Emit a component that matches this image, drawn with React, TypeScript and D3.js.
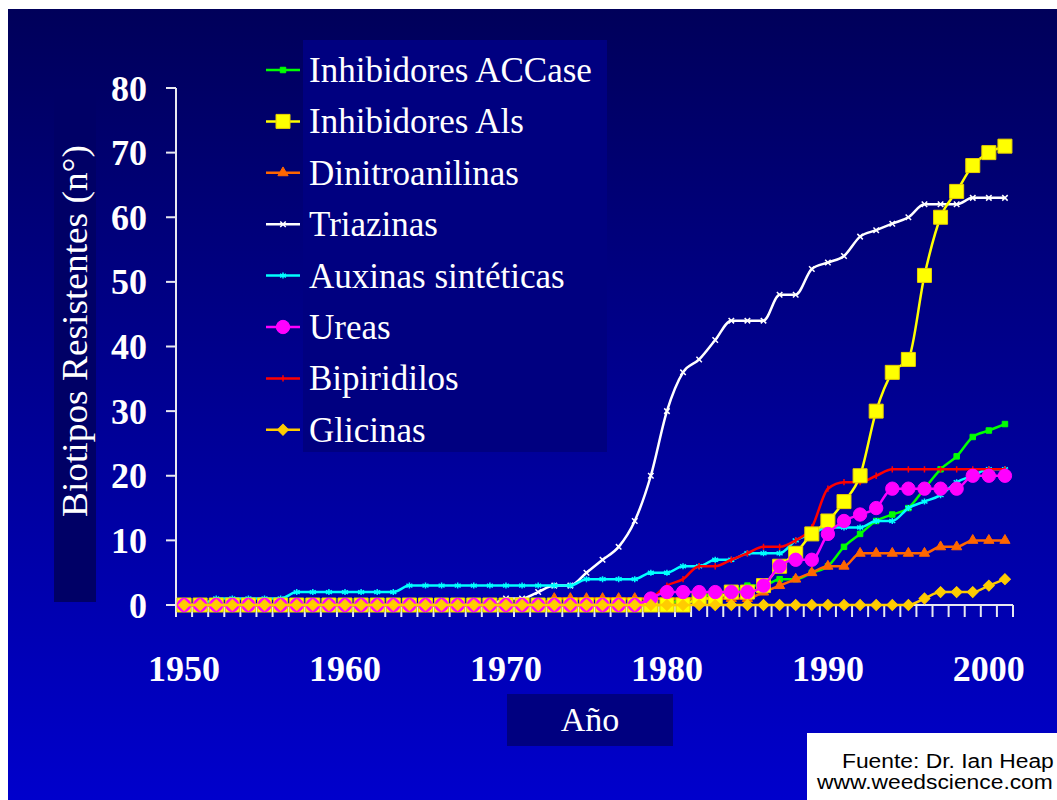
import React, { useRef, useEffect } from 'react';
import * as d3 from 'd3';

// Categories: one per year, 1950 to 2001
const years = d3.range(1950, 2002);
const xTickYears = [1950, 1960, 1970, 1980, 1990, 2000];
const yTicks = [0, 10, 20, 30, 40, 50, 60, 70, 80];

// Resistant biotypes per herbicide group (cumulative)
const accase = [
  0, 0, 0, 0, 0, 0, 0, 0, 0, 0,
  0, 0, 0, 0, 0, 0, 0, 0, 0, 0,
  0, 0, 0, 0, 0, 0, 0, 0, 0, 0,
  0, 1, 1, 2, 2, 3, 3, 4, 4, 5,
  6, 9, 11, 13, 14, 15, 18, 21, 23, 26,
  27, 28,
];
const als = [
  0, 0, 0, 0, 0, 0, 0, 0, 0, 0,
  0, 0, 0, 0, 0, 0, 0, 0, 0, 0,
  0, 0, 0, 0, 0, 0, 0, 0, 0, 0,
  0, 0, 1, 1, 2, 2, 3, 6, 8, 11,
  13, 16, 20, 30, 36, 38, 51, 60, 64, 68,
  70, 71,
];
const dinitro = [
  0, 0, 0, 0, 0, 0, 0, 0, 0, 0,
  0, 0, 0, 0, 0, 0, 0, 0, 0, 0,
  0, 0, 0, 1, 1, 1, 1, 1, 1, 1,
  1, 1, 1, 1, 1, 1, 2, 3, 4, 5,
  6, 6, 8, 8, 8, 8, 8, 9, 9, 10,
  10, 10,
];
const triazinas = [
  0, 0, 0, 0, 0, 0, 0, 0, 0, 0,
  0, 0, 0, 0, 0, 0, 0, 0, 0, 0,
  1, 1, 2, 3, 3, 5, 7, 9, 13, 20,
  30, 36, 38, 41, 44, 44, 44, 48, 48, 52,
  53, 54, 57, 58, 59, 60, 62, 62, 62, 63,
  63, 63,
];
const auxinas = [
  0, 0, 1, 1, 1, 1, 1, 2, 2, 2,
  2, 2, 2, 2, 3, 3, 3, 3, 3, 3,
  3, 3, 3, 3, 3, 4, 4, 4, 4, 5,
  5, 6, 6, 7, 7, 8, 8, 8, 10, 11,
  12, 12, 12, 13, 13, 15, 16, 17, 19, 20,
  21, 21,
];
const ureas = [
  0, 0, 0, 0, 0, 0, 0, 0, 0, 0,
  0, 0, 0, 0, 0, 0, 0, 0, 0, 0,
  0, 0, 0, 0, 0, 0, 0, 0, 0, 1,
  2, 2, 2, 2, 2, 2, 3, 6, 7, 7,
  11, 13, 14, 15, 18, 18, 18, 18, 18, 20,
  20, 20,
];
const bipiridilos = [
  0, 0, 0, 0, 0, 0, 0, 0, 0, 0,
  0, 0, 0, 0, 0, 0, 0, 0, 0, 0,
  0, 0, 0, 0, 0, 0, 0, 0, 0, 1,
  3, 4, 6, 6, 7, 8, 9, 9, 10, 12,
  18, 19, 19, 20, 21, 21, 21, 21, 21, 21,
  21, 21,
];
const glicinas = [
  0, 0, 0, 0, 0, 0, 0, 0, 0, 0,
  0, 0, 0, 0, 0, 0, 0, 0, 0, 0,
  0, 0, 0, 0, 0, 0, 0, 0, 0, 0,
  0, 0, 0, 0, 0, 0, 0, 0, 0, 0,
  0, 0, 0, 0, 0, 0, 1, 2, 2, 2,
  3, 4,
];

// small stroked marker shapes
const xMark = {
  draw(ctx: any, size: number) {
    const r = Math.sqrt(size) / 2;
    ctx.moveTo(-r, -r); ctx.lineTo(r, r);
    ctx.moveTo(r, -r); ctx.lineTo(-r, r);
  },
};
const plusMark = {
  draw(ctx: any, size: number) {
    const r = Math.sqrt(size) / 2;
    ctx.moveTo(0, -r); ctx.lineTo(0, r);
    ctx.moveTo(-r * 0.4, 0); ctx.lineTo(r * 0.4, 0);
  },
};
const starMark = {
  draw(ctx: any, size: number) {
    const r = Math.sqrt(size) / 2;
    ctx.moveTo(0, -r); ctx.lineTo(0, r);
    ctx.moveTo(-r, -r * 0.6); ctx.lineTo(r, r * 0.6);
    ctx.moveTo(r, -r * 0.6); ctx.lineTo(-r, r * 0.6);
  },
};

interface Series {
  name: string;
  values: number[];
  color: string;
  symbol: any;
  size: number;
  filled: boolean;
  rotate?: number;
  stroke?: string;
}

// legend order
const series: Series[] = [
  { name: 'Inhibidores ACCase', values: accase, color: '#00ff00', symbol: d3.symbolSquare, size: 30, filled: true },
  { name: 'Inhibidores Als', values: als, color: '#ffff00', symbol: d3.symbolSquare, size: 196, filled: true, stroke: '#e8d000' },
  { name: 'Dinitroanilinas', values: dinitro, color: '#ff6600', symbol: d3.symbolTriangle, size: 45, filled: true },
  { name: 'Triazinas', values: triazinas, color: '#ffffff', symbol: xMark, size: 30, filled: false },
  { name: 'Auxinas sintéticas', values: auxinas, color: '#00ffff', symbol: starMark, size: 36, filled: false },
  { name: 'Ureas', values: ureas, color: '#ff00ff', symbol: d3.symbolCircle, size: 140, filled: true },
  { name: 'Bipiridilos', values: bipiridilos, color: '#ff0000', symbol: plusMark, size: 40, filled: false },
  { name: 'Glicinas', values: glicinas, color: '#ffcc00', symbol: d3.symbolSquare, size: 60, filled: true, rotate: 45 },
];

// painting order (bottom to top)
const drawOrder = [
  'Triazinas', 'Inhibidores ACCase', 'Dinitroanilinas', 'Auxinas sintéticas',
  'Bipiridilos', 'Inhibidores Als', 'Ureas', 'Glicinas',
];

const W = 1057;
const H = 800;
const serif = '"Liberation Serif", "Times New Roman", serif';
const sans = '"Liberation Sans", Arial, sans-serif';

const App: React.FC = () => {
  const svgRef = useRef<SVGSVGElement>(null);

  useEffect(() => {
    const svg = d3.select(svgRef.current);
    svg.selectAll('*').remove();

    const plot = { left: 176, right: 1013, top: 88, bottom: 605 };

    const x = d3.scaleBand<number>()
      .domain(years)
      .range([plot.left, plot.right])
      .padding(0);
    const cx = (yr: number) => (x(yr) as number) + x.bandwidth() / 2;

    const y = d3.scaleLinear().domain([0, 80]).range([plot.bottom, plot.top]);

    // Background
    const defs = svg.append('defs');
    const grad = defs.append('linearGradient')
      .attr('id', 'bg-grad')
      .attr('x1', 0).attr('y1', 0).attr('x2', 0).attr('y2', 1);
    grad.append('stop').attr('offset', '0%').attr('stop-color', '#00005a');
    grad.append('stop').attr('offset', '100%').attr('stop-color', '#0000cc');

    svg.append('rect').attr('width', W).attr('height', H).attr('fill', '#ffffff');
    svg.append('rect')
      .attr('x', 8).attr('y', 9)
      .attr('width', W - 8).attr('height', H - 9)
      .attr('fill', 'url(#bg-grad)');

    // Y title box
    svg.append('rect')
      .attr('x', 54).attr('y', 89).attr('width', 42).attr('height', 513)
      .attr('fill', '#000066');
    svg.append('text')
      .attr('transform', 'translate(87, 517) rotate(-90)')
      .attr('font-family', serif)
      .attr('font-size', 36)
      .attr('textLength', 372)
      .attr('lengthAdjust', 'spacingAndGlyphs')
      .attr('fill', '#ffffff')
      .text('Biotipos Resistentes (n°)');

    // X title box
    svg.append('rect')
      .attr('x', 507).attr('y', 694).attr('width', 166).attr('height', 52)
      .attr('fill', '#000080');
    svg.append('text')
      .attr('x', 590).attr('y', 731)
      .attr('text-anchor', 'middle')
      .attr('font-family', serif)
      .attr('font-size', 34)
      .attr('fill', '#ffffff')
      .text('Año');

    // Legend box
    svg.append('rect')
      .attr('x', 303).attr('y', 40).attr('width', 304).attr('height', 412)
      .attr('fill', '#000080');

    // Axes
    const axisColor = '#e8e8f0';
    const yAxis = svg.append('g');
    yAxis.append('line')
      .attr('x1', plot.left).attr('x2', plot.left)
      .attr('y1', y(80)).attr('y2', plot.bottom + 12)
      .attr('stroke', axisColor).attr('stroke-width', 2);
    yAxis.selectAll('.ytick')
      .data(yTicks)
      .enter().append('line')
      .attr('x1', plot.left - 10).attr('x2', plot.left)
      .attr('y1', d => y(d)).attr('y2', d => y(d))
      .attr('stroke', axisColor).attr('stroke-width', 2);
    yAxis.selectAll('.ylabel')
      .data(yTicks)
      .enter().append('text')
      .attr('x', 147)
      .attr('y', d => y(d))
      .attr('dy', '0.35em')
      .attr('text-anchor', 'end')
      .attr('font-family', serif)
      .attr('font-weight', 'bold')
      .attr('font-size', 36)
      .attr('fill', '#ffffff')
      .text(d => d);

    const xAxis = svg.append('g');
    xAxis.append('line')
      .attr('x1', plot.left).attr('x2', plot.right)
      .attr('y1', plot.bottom).attr('y2', plot.bottom)
      .attr('stroke', axisColor).attr('stroke-width', 2);
    const bounds = years.map(yr => x(yr) as number).concat([plot.right]);
    xAxis.selectAll('.xtick')
      .data(bounds)
      .enter().append('line')
      .attr('x1', d => d).attr('x2', d => d)
      .attr('y1', plot.bottom).attr('y2', plot.bottom + 12)
      .attr('stroke', axisColor).attr('stroke-width', 2);
    xAxis.selectAll('.xlabel')
      .data(xTickYears)
      .enter().append('text')
      .attr('x', d => cx(d))
      .attr('y', 681)
      .attr('text-anchor', 'middle')
      .attr('font-family', serif)
      .attr('font-weight', 'bold')
      .attr('font-size', 36)
      .attr('fill', '#ffffff')
      .text(d => d);

    // Lines and markers
    const line = d3.line<number>()
      .x((_, i) => cx(years[i]))
      .y(d => y(d))
      .curve(d3.curveMonotoneX);

    const drawMarker = (g: any, s: Series, px: number, py: number) => {
      const path = d3.symbol().type(s.symbol).size(s.size)();
      const m = g.append('path')
        .attr('d', path)
        .attr('transform', `translate(${px},${py})${s.rotate ? ` rotate(${s.rotate})` : ''}`);
      if (s.filled) {
        m.attr('fill', s.color)
          .attr('stroke', s.stroke || s.color)
          .attr('stroke-width', 1);
      } else {
        m.attr('fill', 'none')
          .attr('stroke', s.color)
          .attr('stroke-width', 1.5);
      }
    };

    drawOrder.forEach(name => {
      const s = series.find(d => d.name === name)!;
      const g = svg.append('g');
      g.append('path')
        .datum(s.values)
        .attr('fill', 'none')
        .attr('stroke', s.color)
        .attr('stroke-width', 2.5)
        .attr('d', line);
      s.values.forEach((v, i) => drawMarker(g, s, cx(years[i]), y(v)));
    });

    // Legend entries
    const legend = svg.append('g');
    series.forEach((s, i) => {
      const ly = 70 + i * 51.4;
      legend.append('line')
        .attr('x1', 266).attr('x2', 300)
        .attr('y1', ly).attr('y2', ly)
        .attr('stroke', s.color).attr('stroke-width', 2.5);
      drawMarker(legend, s, 283, ly);
      legend.append('text')
        .attr('x', 309)
        .attr('y', ly + 12)
        .attr('font-family', serif)
        .attr('font-size', 35)
        .attr('fill', '#ffffff')
        .text(s.name);
    });

    // Source box
    svg.append('rect')
      .attr('x', 807).attr('y', 733).attr('width', 260).attr('height', 70)
      .attr('fill', '#ffffff');
    svg.append('text')
      .attr('transform', 'translate(842, 768) scale(1.17, 1)')
      .attr('font-family', sans)
      .attr('font-size', 19.5)
      .attr('fill', '#000000')
      .text('Fuente: Dr. Ian Heap');
    svg.append('text')
      .attr('transform', 'translate(817, 789) scale(1.17, 1)')
      .attr('font-family', sans)
      .attr('font-size', 19.5)
      .attr('fill', '#000000')
      .text('www.weedscience.com');
  }, []);

  return (
    <svg
      ref={svgRef}
      width={W}
      height={H}
      style={{ position: 'fixed', left: 0, top: 0, display: 'block' }}
    />
  );
};

export default App;
